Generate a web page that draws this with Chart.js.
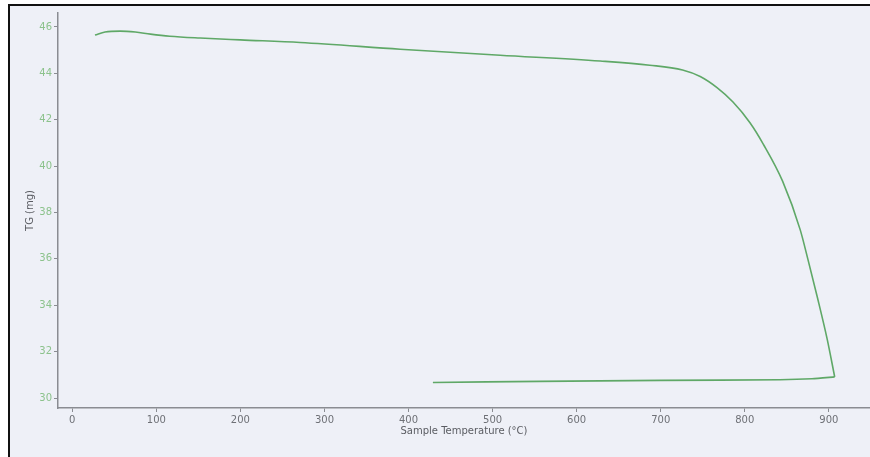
<!DOCTYPE html>
<html>
<head>
<meta charset="utf-8">
<script src="https://cdn.jsdelivr.net/npm/chart.js@4/dist/chart.umd.min.js"></script>
<style>
html,body{margin:0;padding:0;background:#fff;}
#wrap{width:870px;height:457px;position:relative;}
</style>
</head>
<body>
<div id="wrap"><canvas id="c" width="870" height="457"></canvas></div>
<script>
// Heating segment (sample temperature °C, TG mg)
const heatTemp = [27, 39, 57, 75, 93, 116, 152, 200, 271, 390, 509, 628, 687, 726, 747, 767, 786, 806, 822, 845, 866, 875, 886, 898, 907];
const heatTG   = [45.65, 45.78, 45.82, 45.78, 45.69, 45.60, 45.52, 45.44, 45.33, 45.04, 44.78, 44.53, 44.35, 44.14, 43.86, 43.38, 42.76, 41.88, 40.95, 39.35, 37.25, 36.00, 34.40, 32.55, 30.91];
// Cooling segment
const coolTemp = [907, 880, 842, 700, 556, 429];
const coolTG   = [30.91, 30.83, 30.79, 30.76, 30.72, 30.67];
// Tick labels
const xTicks = [0, 100, 200, 300, 400, 500, 600, 700, 800, 900];
const yTicks = [30, 32, 34, 36, 38, 40, 42, 44, 46];

const heatPts = heatTemp.map((t, i) => ({x: t, y: heatTG[i]}));
const coolPts = coolTemp.map((t, i) => ({x: t, y: coolTG[i]}));

const bgPlugin = {
  id: 'bg',
  beforeDraw(chart) {
    const ctx = chart.ctx;
    ctx.save();
    ctx.fillStyle = '#ffffff';
    ctx.fillRect(0, 0, chart.width, chart.height);
    ctx.fillStyle = '#eef0f7';
    ctx.fillRect(9, 5, chart.width - 9, chart.height - 5);
    ctx.fillStyle = '#111111';
    ctx.fillRect(8, 4, 2, chart.height - 4);
    ctx.fillRect(8, 4, chart.width - 8, 2);
    ctx.restore();
  }
};

const lineColor = '#5fa867';

new Chart(document.getElementById('c'), {
  type: 'scatter',
  data: {
    datasets: [
      {data: heatPts, showLine: true, borderColor: lineColor, borderWidth: 1.6, pointRadius: 0, cubicInterpolationMode: 'monotone', fill: false},
      {data: coolPts, showLine: true, borderColor: lineColor, borderWidth: 1.6, pointRadius: 0, tension: 0.2, fill: false}
    ]
  },
  plugins: [bgPlugin],
  options: {
    responsive: false,
    animation: false,
    layout: {padding: {left: 0, right: 0, top: 13, bottom: 0}},
    plugins: {legend: {display: false}, tooltip: {enabled: false}},
    scales: {
      x: {
        type: 'linear',
        min: -17,
        max: 949,
        afterBuildTicks: s => { s.ticks = xTicks.map(v => ({value: v})); },
        afterFit: s => { s.height = 49; },
        border: {display: true, color: '#8a8c92', width: 1.5},
        grid: {display: true, drawOnChartArea: false, drawTicks: true, tickLength: 4, color: '#8a8c92'},
        ticks: {color: '#6e7076', padding: 2, maxRotation: 0, font: {family: 'DejaVu Sans', size: 10}},
        title: {display: true, text: 'Sample Temperature (°C)', color: '#5a5c62', padding: {top: 0, bottom: 20}, font: {family: 'DejaVu Sans', size: 10}}
      },
      y: {
        type: 'linear',
        min: 29.57,
        max: 46.6,
        afterBuildTicks: s => { s.ticks = yTicks.map(v => ({value: v})); },
        afterFit: s => { s.width = 58; },
        border: {display: true, color: '#8a8c92', width: 1.5},
        grid: {display: true, drawOnChartArea: false, drawTicks: true, tickLength: 4, color: '#8a8c92'},
        ticks: {color: '#8cc28c', padding: 2, font: {family: 'DejaVu Sans', size: 10}},
        title: {display: true, text: 'TG (mg)', color: '#5a5c62', padding: {top: 24, bottom: 0}, font: {family: 'DejaVu Sans', size: 10}}
      }
    }
  }
});
</script>
</body>
</html>
